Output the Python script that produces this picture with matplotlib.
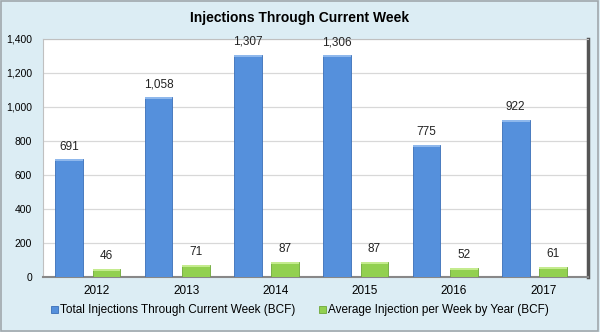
import matplotlib.pyplot as plt
import numpy as np
from matplotlib.patches import Rectangle

#data
years = ["2012", "2013", "2014", "2015", "2016", "2017"]
total_inj = [691, 1058, 1307, 1306, 775, 922]
avg_inj = [46, 71, 87, 87, 52, 61]
y_ticks = [0, 200, 400, 600, 800, 1000, 1200, 1400]

blue = "#5590dc"
green = "#92d050"
bg = "#dcedf4"

fig = plt.figure(figsize=(6, 3.32), dpi=100)
fig.patch.set_facecolor(bg)
#outer gray frame
fig.add_artist(Rectangle((0.002, 0.003), 0.995, 0.993, transform=fig.transFigure,
                         fill=False, edgecolor="#a0a8ac", linewidth=1.2))

ax = fig.add_axes([0.072, 0.166, 0.908, 0.717])
ax.set_facecolor("white")

x = np.arange(len(years))
w = 0.31
b1 = ax.bar(x - 0.21, total_inj, w, color=blue, edgecolor="#3a6fb8", linewidth=0.6,
            label="Total Injections Through Current Week (BCF)", zorder=3)
b2 = ax.bar(x + 0.21, avg_inj, w, color=green, edgecolor="#6ea838", linewidth=0.6,
            label="Average Injection per Week by Year (BCF)", zorder=3)

#lighter top strip to fake the bevel
for bars, c in [(b1, "#8fb8ec"), (b2, "#c4eb8e")]:
    for r in bars:
        ax.add_patch(Rectangle((r.get_x(), r.get_height() - 12), r.get_width(), 12,
                               color=c, zorder=4, linewidth=0))

for i in range(len(years)):
    ax.text(x[i] - 0.21, total_inj[i] + 40, format(total_inj[i], ","), ha="center",
            va="bottom", fontsize=8.5, color="#222222", family="Liberation Sans")
    ax.text(x[i] + 0.21, avg_inj[i] + 40, str(avg_inj[i]), ha="center",
            va="bottom", fontsize=8.5, color="#222222", family="Liberation Sans")

ax.set_xlim(-0.5, 5.6)
ax.set_ylim(0, 1400)
ax.set_yticks(y_ticks)
ax.set_yticklabels([format(v, ",") for v in y_ticks], fontsize=7.5, family="Liberation Sans")
ax.set_xticks(x + 0.1)
ax.set_xticklabels(years, fontsize=8.5, family="Liberation Sans")
ax.tick_params(length=0, pad=6)
ax.tick_params(axis="y", pad=8)
ax.yaxis.grid(True, color="#d8d8d8", linewidth=0.9, zorder=0)
ax.set_axisbelow(True)
for s in ["top", "bottom", "left"]:
    ax.spines[s].set_color("#c0c0c0")
ax.spines["right"].set_color("#555555")
ax.spines["right"].set_linewidth(2.5)
ax.spines["bottom"].set_color("#888888")
ax.spines["bottom"].set_linewidth(1.5)

fig.text(0.5, 0.945, "Injections Through Current Week", ha="center", va="center",
         fontsize=10, fontweight="bold", family="Liberation Sans")

fig.legend(handles=[b1, b2], loc="center", bbox_to_anchor=(0.5, 0.065), ncol=2,
           frameon=False, handlelength=0.6, handleheight=0.6,
           handletextpad=0.2, columnspacing=2.0, prop={"family": "Liberation Sans", "size": 8.5})

fig.savefig("out.png", dpi=100, facecolor=bg)
